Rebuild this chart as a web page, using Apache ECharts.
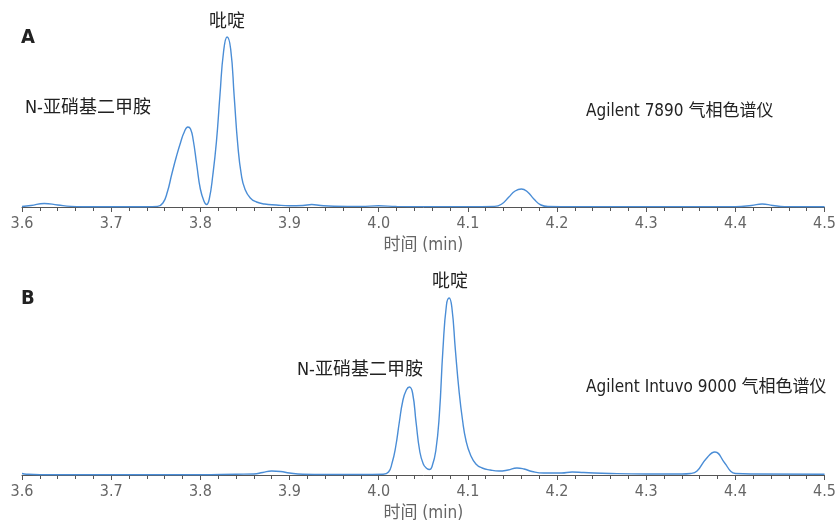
<!DOCTYPE html>
<html>
<head>
<meta charset="utf-8">
<script src="https://cdn.jsdelivr.net/npm/echarts@6/dist/echarts.min.js"></script>
<style>html,body{margin:0;padding:0;background:#fff}#c{width:839px;height:523px}</style>
</head>
<body>
<div id="c"></div>
<script>
// Retention time (min) and detector response (arbitrary units)
const timeA = [3.600,3.610,3.625,3.640,3.655,3.670,3.700,3.740,3.752,3.758,3.763,3.768,3.773,3.778,3.782,3.786,3.789,3.792,3.796,3.800,3.804,3.807,3.810,3.814,3.818,3.822,3.826,3.830,3.834,3.838,3.842,3.846,3.850,3.856,3.863,3.872,3.885,3.900,3.915,3.925,3.935,3.950,3.980,4.000,4.020,4.060,4.100,4.130,4.138,4.146,4.153,4.160,4.167,4.174,4.182,4.190,4.220,4.300,4.400,4.418,4.430,4.442,4.455,4.500];
const signalA = [0.5,1.5,3.5,2,0.6,0.3,0.2,0.2,0.6,4,15,33,50,65,75,80,78,67,42,18,6,2.5,8,32,65,112,155,170,158,110,62,32,18,9,5,3,2,1.2,1.5,2.5,1.5,0.8,0.6,1.2,0.6,0.4,0.4,0.6,3,10,16,18,15,8,2,0.5,0.4,0.4,0.4,1.5,3,1.5,0.4,0.3];

const timeB = [3.600,3.605,3.620,3.700,3.800,3.840,3.860,3.870,3.880,3.890,3.900,3.915,3.940,3.980,4.005,4.011,4.015,4.019,4.023,4.027,4.031,4.0345,4.038,4.042,4.046,4.050,4.054,4.057,4.060,4.064,4.068,4.072,4.076,4.079,4.082,4.086,4.090,4.094,4.098,4.103,4.109,4.116,4.125,4.135,4.145,4.155,4.163,4.172,4.185,4.205,4.217,4.230,4.260,4.300,4.340,4.350,4.357,4.367,4.377,4.388,4.395,4.400,4.420,4.500];
const signalB = [1.5,0.8,0.3,0.3,0.3,0.8,1,2.5,4,3.5,2,0.8,0.5,0.5,0.8,3,12,28,52,74,85,88,82,52,24,11,6.5,5.5,9,24,60,125,170,177,168,125,85,55,34,20,11,7,5,4,5,7,6,3.5,2,2,3,2.5,1.5,1,1,1.5,4,16,23,12,3.5,1.5,1,0.8];

const xTicksMin = 3.6, xTicksMax = 4.5, xTickStep = 0.1;
const axisTitle = '时间 (min)';
const panelLetters = ['A', 'B'];
const peakNDMA = 'N-亚硝基二甲胺', peakPyr = '吡啶';
const instrA = 'Agilent 7890 气相色谱仪', instrB = 'Agilent Intuvo 9000 气相色谱仪';

const pair = (t, s) => t.map((v, i) => [v, s[i]]);
const latin = "'Liberation Sans Narrow','DejaVu Sans Condensed','Noto Sans CJK SC',sans-serif";
const lineColor = '#4a8dd6';

function xAxis(gi) {
  return {
    type: 'value', gridIndex: gi, min: xTicksMin, max: xTicksMax, interval: xTickStep,
    axisLine: {lineStyle: {color: '#555', width: 1}},
    axisTick: {show: true, length: 5, lineStyle: {color: '#555'}},
    minorTick: {show: true, splitNumber: 5, length: 4, lineStyle: {color: '#555'}},
    splitLine: {show: false}, minorSplitLine: {show: false},
    axisLabel: {color: '#666', fontSize: 16, fontFamily: latin, margin: 9, formatter: v => v.toFixed(1)},
    name: axisTitle, nameLocation: 'middle', nameGap: 30,
    nameTextStyle: {color: '#666', fontSize: 17, fontFamily: latin}
  };
}
function yAxis(gi) {
  return {type: 'value', gridIndex: gi, min: 0, max: 200, show: false};
}
function txt(x, y, s, opts) {
  return Object.assign({type: 'text', x: x, y: y, style: Object.assign({text: s, fill: '#222', font: "18px " + latin, textVerticalAlign: 'middle'}, opts || {})});
}

const chart = echarts.init(document.getElementById('c'), null, {renderer: 'canvas'});
chart.setOption({
  animation: false,
  grid: [
    {left: 22, right: 13, top: 7, height: 200},
    {left: 22, right: 13, top: 275, height: 200}
  ],
  xAxis: [xAxis(0), xAxis(1)],
  yAxis: [yAxis(0), yAxis(1)],
  series: [
    {type: 'line', xAxisIndex: 0, yAxisIndex: 0, data: pair(timeA, signalA), showSymbol: false, smooth: 0.5, lineStyle: {color: lineColor, width: 1.4}, z: 5},
    {type: 'line', xAxisIndex: 1, yAxisIndex: 1, data: pair(timeB, signalB), showSymbol: false, smooth: 0.5, lineStyle: {color: lineColor, width: 1.4}, z: 5}
  ],
  graphic: [
    txt(21, 38, panelLetters[0], {font: "bold 20px " + latin}),
    txt(21, 299, panelLetters[1], {font: "bold 20px " + latin}),
    txt(227, 22, peakPyr, {textAlign: 'center'}),
    txt(25, 108, peakNDMA),
    txt(586, 112, instrA, {font: "17px " + latin}),
    txt(450, 282, peakPyr, {textAlign: 'center'}),
    txt(297, 370, peakNDMA),
    txt(586, 388, instrB, {font: "17px " + latin})
  ]
});
</script>
</body>
</html>
